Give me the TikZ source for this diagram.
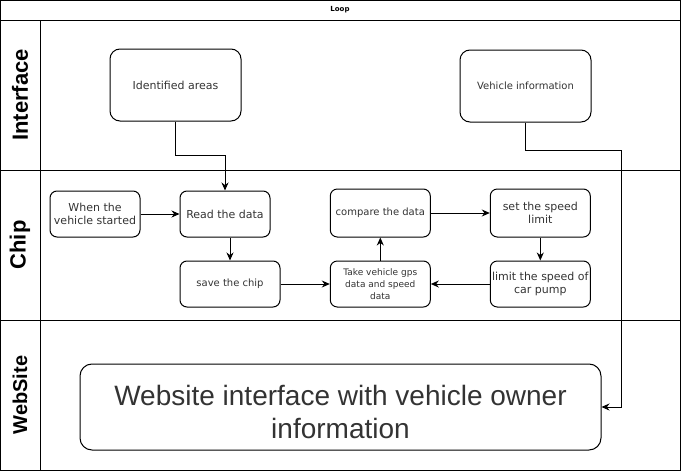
\documentclass[tikz,border=0pt]{standalone}
\usepackage{fontspec}
\setmainfont{DejaVu Sans}
\newfontfamily\arialfont{Liberation Sans}
\usetikzlibrary{arrows.meta}
\definecolor{txt}{HTML}{333333}
\begin{document}
\begin{tikzpicture}[x=1pt,y=-1pt,
  frame/.style={draw=black,line width=1pt},
  box/.style={draw=black,line width=1pt,rounded corners=7pt,align=center,text=txt,inner sep=1pt},
  lanelabel/.style={rotate=90,font=\arialfont\bfseries,text=black},
  conn/.style={draw=black,line width=1pt,-{Stealth[length=8pt,width=7pt]}},
  plain/.style={draw=black,line width=1pt}]
\useasboundingbox (0,0) rectangle (681,471);
% pool frame
\draw[frame] (0.5,0.5) rectangle (680,470);
\draw[frame] (0.5,20) -- (680,20);
\draw[frame] (40.5,20) -- (40.5,470);
\draw[frame] (0.5,170) -- (680,170);
\draw[frame] (0.5,320) -- (680,320);
\node[font=\bfseries\fontsize{7}{8}\selectfont] (title) at (340,10) {Loop};
% lane labels
\node[lanelabel,font=\arialfont\bfseries\fontsize{22}{24}\selectfont] (lint) at (20,95) {Interface};
\node[lanelabel,font=\arialfont\bfseries\fontsize{22}{24}\selectfont] (lchip) at (20,245) {Chip};
\node[lanelabel,font=\arialfont\bfseries\fontsize{20}{22}\selectfont] (lweb) at (20,395) {WebSite};
% interface lane
\node[box,rounded corners=10pt,minimum width=131pt,minimum height=72pt,font=\fontsize{11}{13}\selectfont] (ident) at (175.5,85) {Identified areas};
\node[box,rounded corners=10pt,minimum width=131pt,minimum height=72pt,font=\fontsize{10}{12}\selectfont] (veh) at (525.5,86) {Vehicle information};
% chip lane
\node[box,minimum width=90pt,minimum height=46pt,font=\fontsize{11}{13.3}\selectfont] (when) at (95,214) {When the\\vehicle started};
\node[box,minimum width=90pt,minimum height=46pt,font=\fontsize{11}{13}\selectfont] (read) at (225,214) {Read the data};
\node[box,minimum width=100pt,minimum height=46pt,font=\fontsize{10}{12}\selectfont] (save) at (230,284) {save the chip};
\node[box,minimum width=100pt,minimum height=48pt,font=\fontsize{10}{12}\selectfont] (comp) at (380.3,213) {compare the data};
\node[box,minimum width=100pt,minimum height=48pt,font=\fontsize{11}{13}\selectfont] (set) at (540.3,213) {set the speed\\limit};
\node[box,minimum width=100pt,minimum height=46pt,font=\fontsize{9}{11.7}\selectfont] (take) at (380.3,284) {Take vehicle gps\\data and speed\\data};
\node[box,minimum width=100pt,minimum height=46pt,font=\fontsize{11}{13}\selectfont] (limit) at (540.3,284) {limit the speed of\\car pump};
% website lane
\node[box,rounded corners=12pt,minimum width=521pt,minimum height=86pt] (web) at (340.5,407) {};
\node[align=center,text=txt,inner sep=0pt,font=\arialfont\fontsize{28}{33}\selectfont] (webtxt) at (340.5,412) {Website interface with vehicle owner\\information};
% connectors
\coordinate (b1) at (225,155.7);
\coordinate (b2) at (621.5,150);
\draw[conn] (ident.south) |- (b1) -- (read.north);
\draw[conn] (veh.south) |- (b2) |- (web.east);
\draw[conn] (when.east) -- (read.west);
\draw[conn] (save.north |- read.south) -- (save.north);
\draw[conn] (save.east) -- (take.west);
\draw[conn] (take.north) -- (comp.south);
\draw[conn] (comp.east) -- (set.west);
\draw[conn] (set.south) -- (limit.north);
\draw[conn] (limit.west) -- (take.east);
\end{tikzpicture}
\end{document}
